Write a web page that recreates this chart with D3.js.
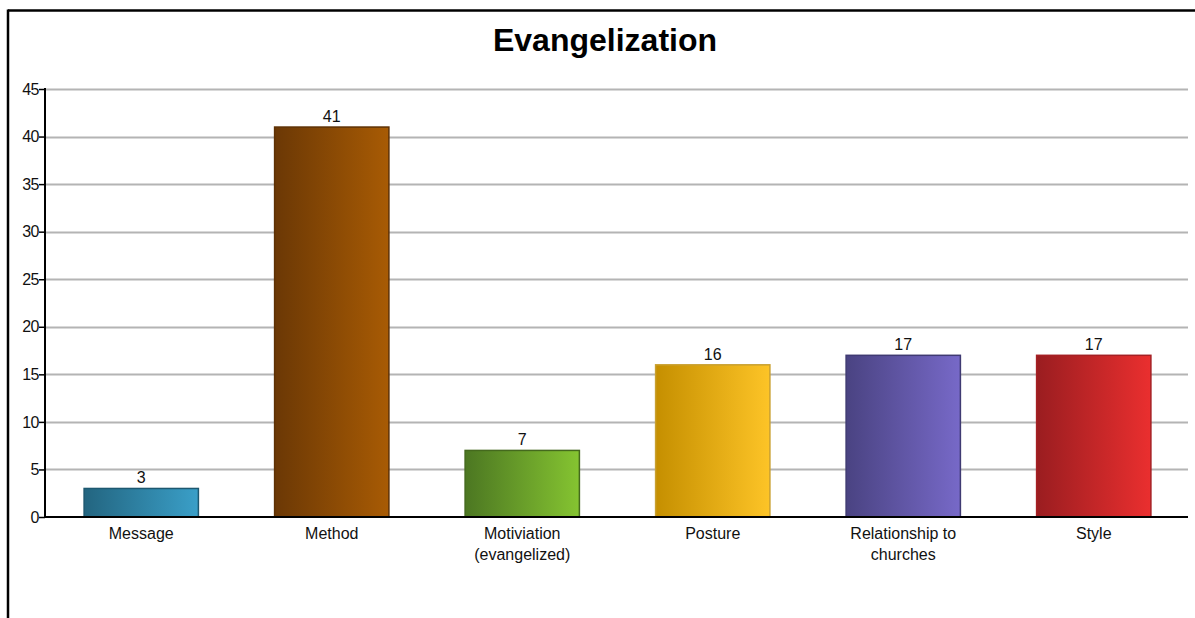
<!DOCTYPE html>
<html>
<head>
<meta charset="utf-8">
<script src="https://cdn.jsdelivr.net/npm/d3@7/dist/d3.min.js"></script>
<style>
  html, body { margin: 0; padding: 0; background: #fff; }
  svg { display: block; }
  text { font-family: "Liberation Sans", Arial, sans-serif; }
</style>
</head>
<body>
<svg id="chart" width="1195" height="618"></svg>
<script>
const categories = ["Message", "Method", "Motiviation (evangelized)", "Posture", "Relationship to churches", "Style"];
const categoryLines = [["Message"], ["Method"], ["Motiviation", "(evangelized)"], ["Posture"], ["Relationship to", "churches"], ["Style"]];
const values = [3, 41, 7, 16, 17, 17];
const yTicks = [0, 5, 10, 15, 20, 25, 30, 35, 40, 45];
const colorsDark = ["#236580", "#6b3805", "#4c7722", "#c58f00", "#4a4382", "#9a1d20"];
const colorsLight = ["#3a9fc8", "#a85b04", "#85c431", "#fdc427", "#7769c8", "#ea2f2f"];
const colorsStroke = ["#1d5870", "#5e3104", "#44691d", "#c9a030", "#3f3a72", "#a52024"];
const title = "Evangelization";

(function () {
const svg = d3.select("#chart");
const W = 1195, H = 618;

// frame
svg.append("line").attr("x1", 8).attr("x2", W + 5).attr("y1", 10.5).attr("y2", 10.5)
  .attr("stroke", "#000").attr("stroke-width", 2.5);
svg.append("line").attr("x1", 8).attr("x2", 8).attr("y1", 9.5).attr("y2", H + 5)
  .attr("stroke", "#000").attr("stroke-width", 2.5);

const mLeft = 45, mRight = 1188, mTop = 89, mBottom = 517;

const x = d3.scaleBand().domain(categories).range([mLeft, mRight]).paddingInner(0.4).paddingOuter(0.2);
const y = d3.scaleLinear().domain([0, 45]).range([mBottom, mTop]);

// title
svg.append("text").attr("x", 605).attr("y", 51).attr("text-anchor", "middle")
  .attr("font-size", 32).attr("font-weight", "bold").attr("fill", "#000").text(title);

// gradients
const defs = svg.append("defs");
categories.forEach((c, i) => {
  const g = defs.append("linearGradient").attr("id", "g" + i)
    .attr("x1", "0%").attr("x2", "100%").attr("y1", "0%").attr("y2", "0%");
  g.append("stop").attr("offset", "0%").attr("stop-color", colorsDark[i]);
  g.append("stop").attr("offset", "100%").attr("stop-color", colorsLight[i]);
});

// gridlines
svg.append("g").selectAll("line").data(yTicks.filter(d => d > 0)).join("line")
  .attr("x1", mLeft).attr("x2", mRight)
  .attr("y1", d => Math.round(y(d)) + 0.5).attr("y2", d => Math.round(y(d)) + 0.5)
  .attr("stroke", "#b4b4b4").attr("stroke-width", 2);

// bars
svg.append("g").selectAll("rect").data(values).join("rect")
  .attr("x", (d, i) => x(categories[i]) + 1)
  .attr("width", x.bandwidth())
  .attr("y", d => y(d))
  .attr("height", d => y(0) - y(d))
  .attr("fill", (d, i) => `url(#g${i})`)
  .attr("stroke", (d, i) => colorsStroke[i]).attr("stroke-width", 1.5);

// value labels
svg.append("g").selectAll("text").data(values).join("text")
  .attr("x", (d, i) => x(categories[i]) + x.bandwidth() / 2 + 1)
  .attr("y", d => y(d) - 5)
  .attr("text-anchor", "middle").attr("font-size", 16).attr("fill", "#111")
  .text(d => d);

// y axis
const yAxis = d3.axisLeft(y).tickValues(yTicks).tickSize(6).tickPadding(0);
const ya = svg.append("g").attr("transform", `translate(${mLeft},0)`).call(yAxis);
ya.select(".domain").attr("stroke", "#000").attr("stroke-width", 2).attr("d", `M0,${mTop - 1}V${mBottom}`);
ya.selectAll(".tick line").attr("stroke", "#000").attr("stroke-width", 1.5);
ya.selectAll(".tick text").attr("font-size", 16).attr("fill", "#111")
  .attr("font-family", "Liberation Sans, Arial, sans-serif").attr("letter-spacing", -0.5);

// x axis line
svg.append("line").attr("x1", mLeft).attr("x2", mRight).attr("y1", mBottom).attr("y2", mBottom)
  .attr("stroke", "#000").attr("stroke-width", 2);

// x labels
const xl = svg.append("g").selectAll("text").data(categories).join("text")
  .attr("x", d => x(d) + x.bandwidth() / 2 + 1)
  .attr("y", 539)
  .attr("text-anchor", "middle").attr("font-size", 16).attr("fill", "#111");
xl.each(function(d, i) {
  const t = d3.select(this);
  categoryLines[i].forEach((ln, j) => {
    t.append("tspan").attr("x", x(d) + x.bandwidth() / 2 + 1).attr("dy", j === 0 ? 0 : 21).text(ln);
  });
});
})();
</script>
</body>
</html>
